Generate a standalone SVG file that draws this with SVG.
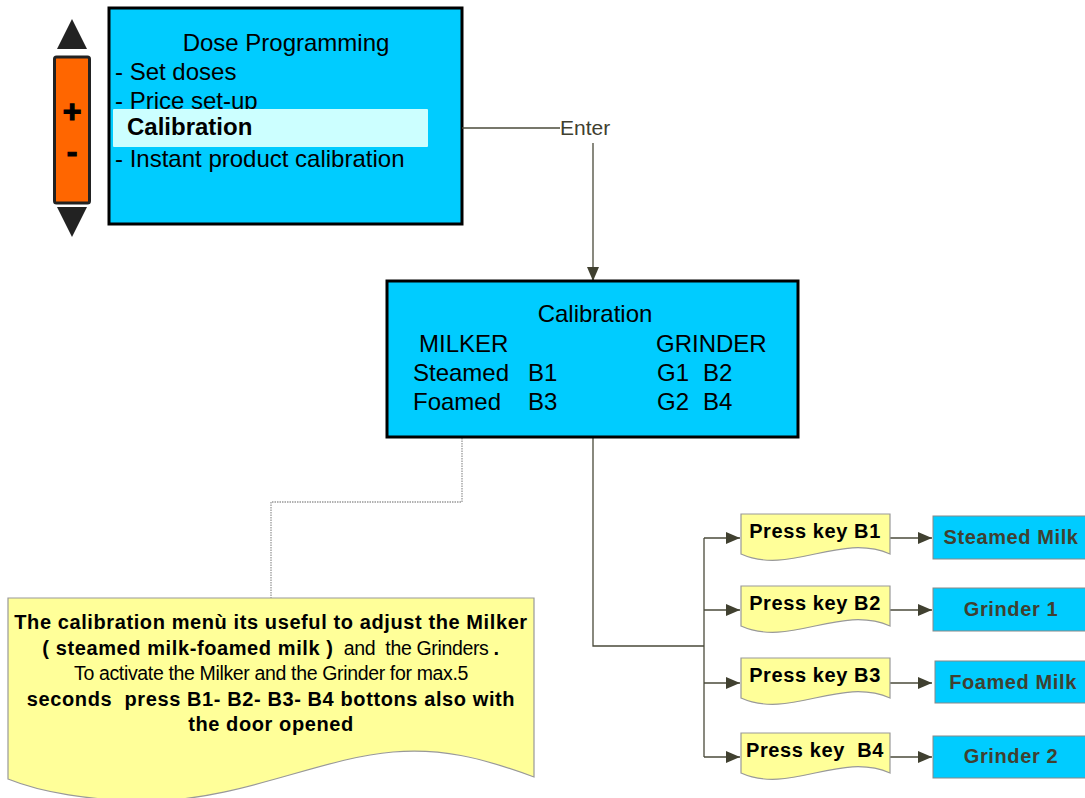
<svg xmlns="http://www.w3.org/2000/svg" width="1085" height="798" viewBox="0 0 1085 798">
<style>
text{font-family:"Liberation Sans",Arial,sans-serif;fill:#000}
.scr{fill:#00CCFF;stroke:#000;stroke-width:3}
.lbl{font-size:24px}
.doc{fill:#FFFF99;stroke:#999;stroke-width:1.2}
.out{fill:#00CCFF;stroke:#888;stroke-width:1}
.pk{font-size:20px;font-weight:bold;text-anchor:middle;white-space:pre;letter-spacing:0.6px}
.ot{font-size:20px;font-weight:bold;text-anchor:middle;fill:#404030;letter-spacing:0.6px}
.con{fill:none;stroke:#4a4a3a;stroke-width:1.3}
.dot{fill:none;stroke:#999;stroke-width:1.3;stroke-dasharray:1.5 1}
.note{text-anchor:middle;white-space:pre}
.nb{font-size:20px;font-weight:bold;letter-spacing:0.6px}
.nr{font-size:19.5px;font-weight:normal;letter-spacing:-0.35px}
</style>
<defs>
<marker id="ah2" viewBox="0 0 14 12" refX="14" refY="6" markerWidth="14" markerHeight="12" markerUnits="userSpaceOnUse" orient="auto">
<path d="M0,0 L14,6 L0,12 Z" fill="#404030"/>
</marker>
</defs>

<g id="keypad">
<path d="M72,19 L87,49 L57,49 Z" fill="#222"/>
<rect x="54.5" y="57" width="35" height="146" rx="2" fill="#FF6600" stroke="#222" stroke-width="3"/>
<text x="72" y="122" font-size="32" font-weight="bold" text-anchor="middle" stroke="#000" stroke-width="1.2">+</text>
<text x="72" y="162" font-size="32" font-weight="bold" text-anchor="middle" stroke="#000" stroke-width="1.2">-</text>
<path d="M57,207 L87,207 L72,237 Z" fill="#222"/>
</g>

<g id="dose-programming">
<rect class="scr" x="109" y="8" width="353" height="216"/>
<text class="lbl" x="286" y="51" text-anchor="middle">Dose Programming</text>
<text class="lbl" x="115" y="80">- Set doses</text>
<text class="lbl" x="115" y="109">- Price set-up</text>
<rect x="113" y="109" width="315" height="38" rx="1" fill="#CCFFFF"/>
<text class="lbl" x="127" y="135" font-weight="bold">Calibration</text>
<text class="lbl" x="115" y="167">- Instant product calibration</text>
</g>

<g id="connectors">
<path class="con" d="M462,128 H560"/>
<path class="con" d="M593,143 V281" marker-end="url(#ah2)"/>
<path class="con" d="M593,437 V646 H704"/>
<path class="con" d="M704,538 V757"/>
<path class="con" d="M704,538 H740" marker-end="url(#ah2)"/>
<path class="con" d="M704,610 H740" marker-end="url(#ah2)"/>
<path class="con" d="M704,683 H740" marker-end="url(#ah2)"/>
<path class="con" d="M704,757 H740" marker-end="url(#ah2)"/>
<path class="con" d="M890,538 H932" marker-end="url(#ah2)"/>
<path class="con" d="M890,610 H932" marker-end="url(#ah2)"/>
<path class="con" d="M890,683 H932" marker-end="url(#ah2)"/>
<path class="con" d="M890,757 H932" marker-end="url(#ah2)"/>
<path class="dot" d="M462,438 V502 H271 V598"/>
<text x="560" y="135" font-size="21" style="fill:#404030">Enter</text>
</g>

<g id="calibration">
<rect class="scr" x="387" y="281" width="411" height="156"/>
<text class="lbl" x="595" y="322" text-anchor="middle">Calibration</text>
<text class="lbl" x="419" y="352">MILKER</text>
<text class="lbl" x="656" y="352">GRINDER</text>
<text class="lbl" x="413" y="381">Steamed</text>
<text class="lbl" x="528" y="381">B1</text>
<text class="lbl" x="413" y="410">Foamed</text>
<text class="lbl" x="528" y="410">B3</text>
<text class="lbl" x="657" y="381">G1</text>
<text class="lbl" x="703" y="381">B2</text>
<text class="lbl" x="657" y="410">G2</text>
<text class="lbl" x="703" y="410">B4</text>
</g>

<g id="note">
<path class="doc" d="M8,598 H534 V777 C480,757 440,748 393,752 C320,758 240,800 150,801 C90,801 40,792 8,779 Z"/>
<text class="note nb" x="271" y="629">The calibration menù its useful to adjust the Milker</text>
<text class="note" x="271" y="655"><tspan class="nb">( steamed milk-foamed milk )</tspan><tspan class="nr">  and  the Grinders </tspan><tspan class="nb">.</tspan></text>
<text class="note nr" x="271" y="680">To activate the Milker and the Grinder for max.5</text>
<text class="note nb" x="271" y="706">seconds  press B1- B2- B3- B4 bottons also with</text>
<text class="note nb" x="271" y="731">the door opened</text>
</g>

<g id="press-b1">
<path class="doc" d="M741,514 H890 V554 C840,532 790,576 741,554 Z"/>
<text class="pk" x="815" y="538">Press key B1</text>
</g>
<g id="press-b2">
<path class="doc" d="M741,586 H890 V626 C840,604 790,648 741,626 Z"/>
<text class="pk" x="815" y="610">Press key B2</text>
</g>
<g id="press-b3">
<path class="doc" d="M741,658 H890 V698 C840,676 790,720 741,698 Z"/>
<text class="pk" x="815" y="682">Press key B3</text>
</g>
<g id="press-b4">
<path class="doc" d="M741,733 H890 V773 C840,751 790,795 741,773 Z"/>
<text class="pk" x="815" y="757">Press key  B4</text>
</g>

<g id="steamed-milk">
<rect class="out" x="933" y="516" width="160" height="43"/>
<text class="ot" x="1011" y="544">Steamed Milk</text>
</g>
<g id="grinder-1">
<rect class="out" x="933" y="588" width="160" height="43"/>
<text class="ot" x="1011" y="616">Grinder 1</text>
</g>
<g id="foamed-milk">
<rect class="out" x="935" y="661" width="160" height="42"/>
<text class="ot" x="1013" y="689">Foamed Milk</text>
</g>
<g id="grinder-2">
<rect class="out" x="933" y="736" width="160" height="42"/>
<text class="ot" x="1011" y="763">Grinder 2</text>
</g>
</svg>
